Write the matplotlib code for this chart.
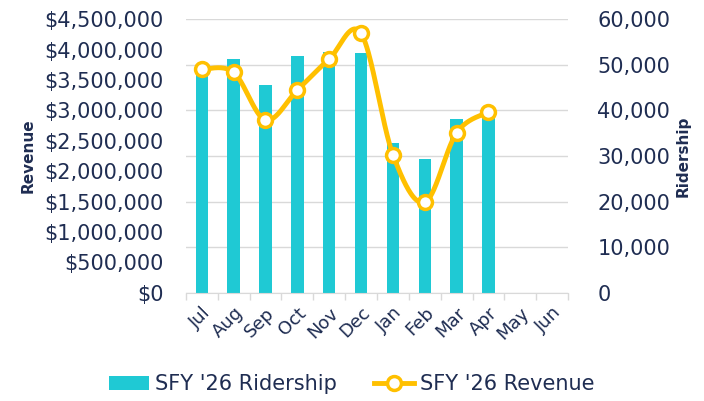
import numpy as np
import matplotlib
matplotlib.use("Agg")
import matplotlib.pyplot as plt
from matplotlib.ticker import FuncFormatter, FixedLocator
from matplotlib.lines import Line2D
from matplotlib.patches import Patch

months = ["Jul", "Aug", "Sep", "Oct", "Nov", "Dec", "Jan", "Feb", "Mar", "Apr", "May", "Jun"]
ridership = [49500, 51200, 45500, 51900, 52800, 52700, 32800, 29300, 38100, 39500]
revenue = [3677000, 3627000, 2842000, 3336000, 3846000, 4269000, 2271000, 1488000, 2633000, 2975000]

TEAL = "#1FC9D4"
GOLD = "#FFC000"
NAVY = "#1F2D52"
GRID = "#D9D9D9"

plt.rcParams['font.family'] = ['DejaVu Sans']

fig = plt.figure(figsize=(7.04, 4.01), dpi=100)
ax = fig.add_axes([0.264, 0.270, 0.543, 0.682])  # revenue (left, line)
ax2 = ax.twinx()  # ridership (right, bars)
ax.set_zorder(ax2.get_zorder() + 1)
ax.patch.set_visible(False)

x = np.arange(len(months))
ax2.bar(x[:len(ridership)], ridership, width=0.39, color=TEAL, zorder=2)
ax2.set_ylim(0, 60000)
ax2.set_yticks(np.arange(0, 60001, 10000))
ax2.yaxis.grid(True, color=GRID, linewidth=1.0, zorder=0)
ax2.set_axisbelow(True)
ax2.yaxis.set_major_formatter(FuncFormatter(lambda v, p: "{:,.0f}".format(v)))

# smoothed revenue (Bezier like Excel's smoothed line)
xr = np.arange(len(revenue), dtype=float)
yr = np.array(revenue, dtype=float)
px, py = [], []
n = len(xr)
for i in range(n - 1):
    p0 = (xr[max(i - 1, 0)], yr[max(i - 1, 0)])
    p1 = (xr[i], yr[i])
    p2 = (xr[i + 1], yr[i + 1])
    p3 = (xr[min(i + 2, n - 1)], yr[min(i + 2, n - 1)])
    c1 = (p1[0] + (p2[0] - p0[0]) / 6, p1[1] + (p2[1] - p0[1]) / 6)
    c2 = (p2[0] - (p3[0] - p1[0]) / 6, p2[1] - (p3[1] - p1[1]) / 6)
    t = np.linspace(0, 1, 40)
    bx = (1 - t) ** 3 * p1[0] + 3 * (1 - t) ** 2 * t * c1[0] + 3 * (1 - t) * t ** 2 * c2[0] + t ** 3 * p2[0]
    by = (1 - t) ** 3 * p1[1] + 3 * (1 - t) ** 2 * t * c1[1] + 3 * (1 - t) * t ** 2 * c2[1] + t ** 3 * p2[1]
    px.extend(bx)
    py.extend(by)
ax.plot(px, py, color=GOLD, linewidth=3.5, solid_capstyle='round', zorder=3)
ax.plot(xr, yr, linestyle='none', marker='o', markersize=10, markerfacecolor='white',
        markeredgecolor=GOLD, markeredgewidth=2.5, zorder=4)
ax.set_xlim(-0.5, len(months) - 0.5)
ax.set_ylim(0, 4500000)
ax.set_yticks(np.arange(0, 4500001, 500000))
ax.yaxis.set_major_formatter(FuncFormatter(lambda v, p: "${:,.0f}".format(v)))

for a in (ax, ax2):
    for s in ('left', 'right', 'top'):
        a.spines[s].set_visible(False)
    a.tick_params(axis='y', length=0, labelsize=15, labelcolor=NAVY)
ax.spines['bottom'].set_color(GRID)
ax2.spines['bottom'].set_visible(False)
ax.tick_params(axis='y', pad=16)
ax2.tick_params(axis='y', pad=21)

ax.set_xticks(x)
ax.set_xticklabels(months, rotation=45, ha='right', rotation_mode='anchor', fontsize=13, color=NAVY)
ax.tick_params(axis='x', which='major', length=0, pad=8)
ax.xaxis.set_minor_locator(FixedLocator(np.arange(-0.5, len(months), 1.0)))
ax.tick_params(axis='x', which='minor', length=5, color=GRID, width=1)

ax.set_ylabel("Revenue", fontsize=11, fontweight='bold', color=NAVY, labelpad=6)
ax2.set_ylabel("Ridership", fontsize=11, fontweight='bold', color=NAVY, labelpad=4, rotation=90)

handles = [Patch(facecolor=TEAL, edgecolor='none'),
           Line2D([0], [0], color=GOLD, linewidth=3.5, marker='o', markersize=10,
                  markerfacecolor='white', markeredgecolor=GOLD, markeredgewidth=2.5)]
fig.legend(handles, ["SFY '26 Ridership", "SFY '26 Revenue"], loc='lower center',
           bbox_to_anchor=(0.5, -0.03), ncol=2, frameon=False, fontsize=15,
           labelcolor=NAVY, handlelength=1.9, handletextpad=0.3, columnspacing=1.8)

fig.savefig("out.png", dpi=100)
